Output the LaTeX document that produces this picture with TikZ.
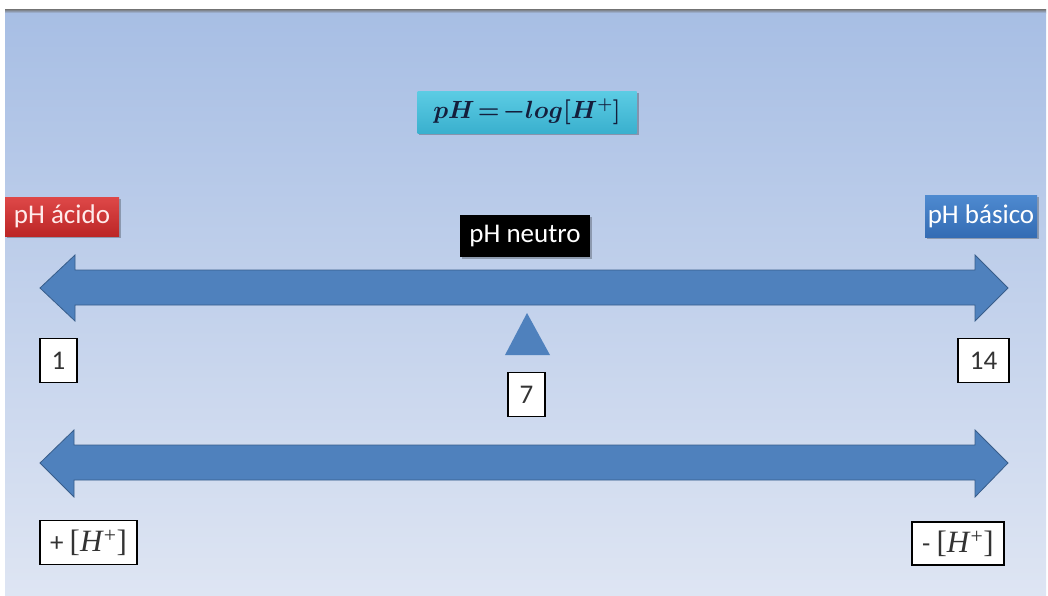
\documentclass[tikz,border=0pt]{standalone}
\usepackage{fontspec}
\usepackage{amsmath}
\setmainfont{Carlito}
\newfontfamily\mathserif{Liberation Serif}
\definecolor{bgtop}{RGB}{167,190,228}
\definecolor{bgbot}{RGB}{222,229,243}
\definecolor{arrowfill}{RGB}{79,129,189}
\definecolor{arrowline}{RGB}{56,93,138}
\definecolor{redtop}{RGB}{222,72,72}
\definecolor{redbot}{RGB}{188,38,38}
\definecolor{bluetop}{RGB}{78,138,208}
\definecolor{bluebot}{RGB}{52,108,180}
\definecolor{cyantop}{RGB}{92,204,228}
\definecolor{cyanbot}{RGB}{58,176,206}
\definecolor{navy}{RGB}{20,30,60}
\newcommand{\labfont}{\fontsize{27}{30}\selectfont}
\newcommand{\hconc}{{\mathserif\fontsize{31}{33}\selectfont[\textit{H}\textsuperscript{+}]}}
\tikzset{
  labeltag/.style={draw=none, inner sep=0pt, text=white},
  valuebox/.style={draw=black, line width=1.8pt, fill=white, inner sep=0pt, text=black!80},
  bigarrow/.style={fill=arrowfill, draw=arrowline, line width=0.8pt, line join=miter},
  shadowbox/.style={fill=black, opacity=0.25},
}
\begin{document}
\begin{tikzpicture}[x=1pt,y=-1pt]
\useasboundingbox (0,0) rectangle (1048,595);
\fill[white] (0,0) rectangle (1048,595);
\shade[top color=bgtop, bottom color=bgbot] (5,9) rectangle (1046,595);
\shade[top color=black!55, bottom color=bgtop] (5,9) rectangle (1046,13);

% shadows
\fill[shadowbox] (419,93) rectangle (639,135);
\fill[shadowbox] (7,199) rectangle (121,238);
\fill[shadowbox] (927,197) rectangle (1039,239);
\fill[shadowbox] (462,217) rectangle (592,259);

% formula
\node[labeltag, top color=cyantop, bottom color=cyanbot, minimum width=219pt, minimum height=42pt, text=navy] (formula) at (527,112) {\fontsize{24}{26}\selectfont{\boldmath$pH\!=\!-log[H^{+}]$}};

% labels
\node[labeltag, top color=redtop, bottom color=redbot, minimum width=114pt, minimum height=39pt, text=red!8] (acido) at (62,216.5) {\labfont pH ácido};
\node[labeltag, top color=bluetop, bottom color=bluebot, minimum width=112pt, minimum height=42pt] (basico) at (981,216) {\labfont pH básico};
\node[labeltag, fill=black, minimum width=130pt, minimum height=42pt] (neutro) at (525,236) {\labfont pH neutro};

% top double arrow
\draw[bigarrow] (40,288) -- (75,255) -- (75,270) -- (975,270) -- (975,255) -- (1008,288) -- (975,321) -- (975,305) -- (75,305) -- (75,321) -- cycle;

% neutral marker
\fill[arrowfill] (527,313) -- (550,355) -- (505,355) -- cycle;

% value boxes
\node[valuebox, minimum width=37pt, minimum height=44pt] (v1) at (58.5,360.5) {\labfont 1};
\node[valuebox, minimum width=51pt, minimum height=44pt] (v14) at (983.5,360.5) {\labfont 14};
\node[valuebox, minimum width=37pt, minimum height=44pt] (v7) at (526.5,394.5) {\labfont 7};

% bottom double arrow
\draw[bigarrow] (40,463) -- (74,430) -- (74,445) -- (975,445) -- (975,430) -- (1008,463) -- (975,497) -- (975,480) -- (74,480) -- (74,497) -- cycle;

% concentration boxes
\node[valuebox, minimum width=97pt, minimum height=44pt] (hplus) at (88.5,542.5) {\labfont + \hconc};
\node[valuebox, minimum width=92pt, minimum height=43pt] (hminus) at (958,543.5) {\labfont - \hconc};
\end{tikzpicture}
\end{document}
